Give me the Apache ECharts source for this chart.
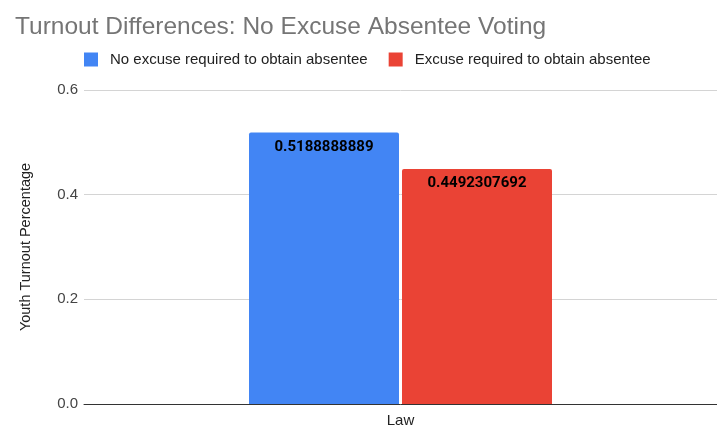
<!DOCTYPE html>
<html><head><meta charset="utf-8">
<script src="https://cdn.jsdelivr.net/npm/echarts@6/dist/echarts.min.js"></script>
<style>html,body{margin:0;padding:0;background:#fff}#c{width:717px;height:428px}</style>
</head><body><div id="c"></div>
<script>
var categories = ['Law'];
var seriesNames = ['No excuse required to obtain absentee', 'Excuse required to obtain absentee'];
var noExcuse = [0.5188888889];
var excuse = [0.4492307692];
var yTicks = [0, 0.2, 0.4, 0.6];

var FONT = 'Liberation Sans, Arial, sans-serif';
var chart = echarts.init(document.getElementById('c'));
var labelCfg = {show: true, position: 'insideTop', distance: 7, color: '#000', fontWeight: 'bold', fontSize: 15, fontFamily: 'Roboto', formatter: function(p){return String(p.value);}};
chart.setOption({
  animation: false,
  title: {text: 'Turnout Differences: No Excuse Absentee Voting', left: 10, top: 10,
    textStyle: {color: '#757575', fontSize: 24.5, fontWeight: 'normal', fontFamily: FONT}},
  legend: {top: 52, left: 84, padding: 0, itemWidth: 14, itemHeight: 14, itemGap: 21, icon: 'rect',
    itemStyle: {borderRadius: 2},
    textStyle: {color: '#222', fontSize: 15, fontFamily: FONT, padding: [0, 0, 0, 7]}, data: seriesNames},
  grid: {left: 84, width: 637, top: 90, bottom: 22, containLabel: false},
  xAxis: {type: 'category', data: categories,
    axisLine: {lineStyle: {color: '#333', width: 1}}, axisTick: {show: false},
    axisLabel: {color: '#222', fontSize: 15, margin: 9, fontFamily: FONT}},
  yAxis: {type: 'value', min: yTicks[0], max: yTicks[yTicks.length-1], interval: 0.2,
    name: 'Youth Turnout Percentage', nameLocation: 'middle', nameGap: 51, nameRotate: 90,
    nameTextStyle: {color: '#222', fontSize: 14.5, fontFamily: FONT},
    axisLine: {show: false}, axisTick: {show: false},
    axisLabel: {color: '#444', fontSize: 15, margin: 6, formatter: function(v){return v.toFixed(1);}, fontFamily: FONT},
    splitLine: {lineStyle: {color: '#d4d4d4'}}},
  series: [
    {name: seriesNames[0], type: 'bar', data: noExcuse, barWidth: 150, barGap: '2%',
      itemStyle: {color: '#4285F4', borderRadius: [2,2,0,0]}, label: labelCfg},
    {name: seriesNames[1], type: 'bar', data: excuse, barWidth: 150,
      itemStyle: {color: '#EA4335', borderRadius: [2,2,0,0]}, label: labelCfg}
  ]
});
</script></body></html>
